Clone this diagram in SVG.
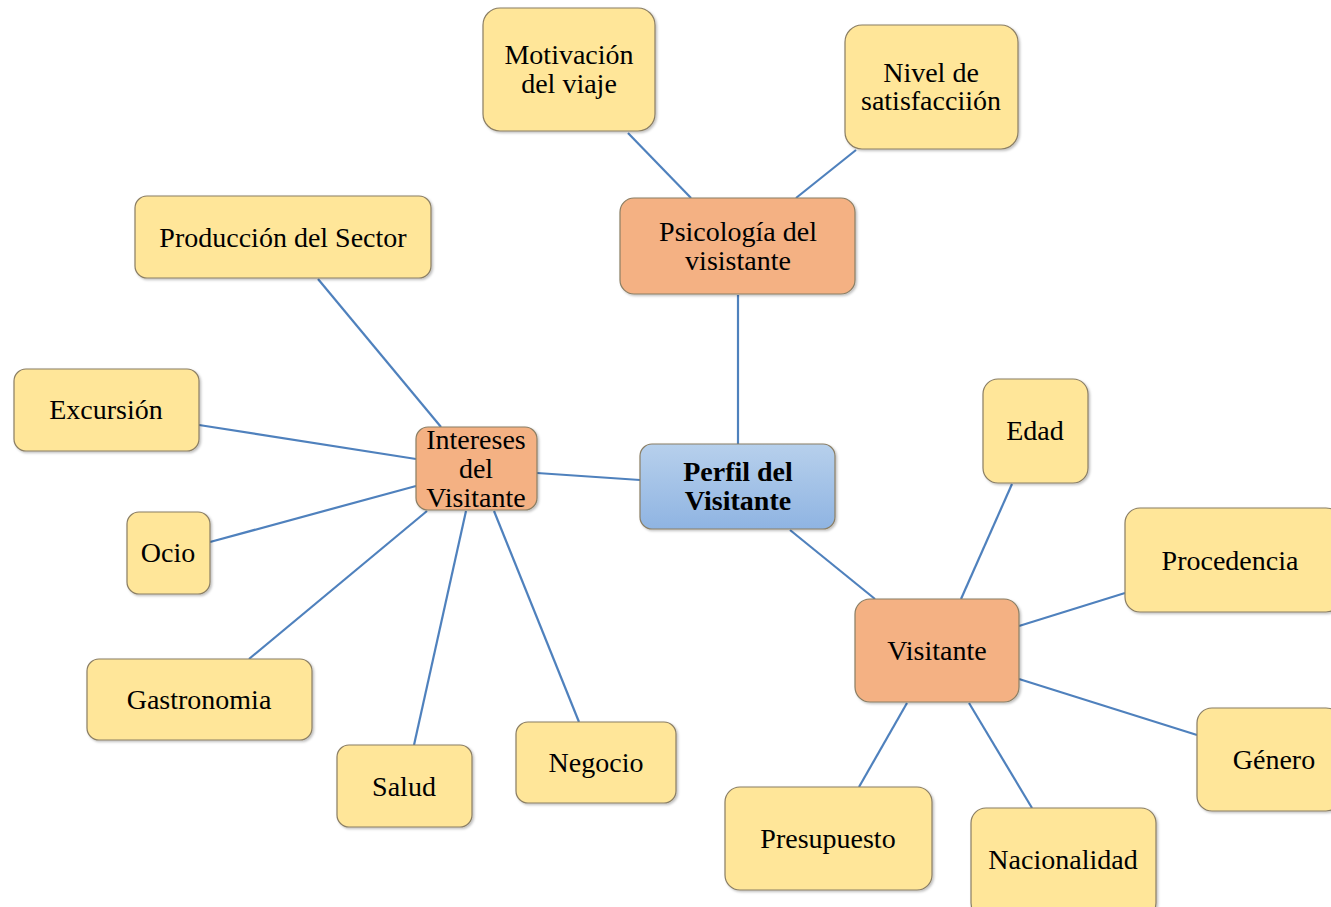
<svg xmlns="http://www.w3.org/2000/svg" width="1331" height="907" viewBox="0 0 1331 907">
  <defs>
    <linearGradient id="blueFill" x1="0" y1="0" x2="0" y2="1">
      <stop offset="0" stop-color="#B7D0EC"/>
      <stop offset="1" stop-color="#8FB4E2"/>
    </linearGradient>
    <filter id="shadow" x="-10%" y="-10%" width="120%" height="130%">
      <feDropShadow dx="1.5" dy="1.5" stdDeviation="1" flood-color="#000" flood-opacity="0.25"/>
    </filter>
  </defs>
  <style>
    .box { stroke: #8A7E64; stroke-width: 1.2; filter: url(#shadow); }
    .leaf { fill: #FFE699; }
    .mid { fill: #F4B183; }
    .root { fill: url(#blueFill); }
    text { font-family: "Liberation Serif", "Times New Roman", serif; font-size: 28px; fill: #000; text-anchor: middle; }
    .bold { font-weight: bold; }
    #connectors line { stroke: #4F81BD; stroke-width: 2.2; }
  </style>
  <rect width="1331" height="907" fill="#FFFFFF"/>

  <!-- connectors drawn under the nodes -->
  <g id="connectors">
    <line x1="628" y1="133" x2="691" y2="198"/>
    <line x1="856" y1="150" x2="796" y2="198"/>
    <line x1="738" y1="295" x2="738" y2="444"/>
    <line x1="318" y1="279" x2="441" y2="427"/>
    <line x1="199" y1="425" x2="416" y2="459"/>
    <line x1="537" y1="473" x2="640" y2="480"/>
    <line x1="210" y1="542" x2="416" y2="486"/>
    <line x1="249" y1="659" x2="427" y2="511"/>
    <line x1="414" y1="745" x2="466" y2="511"/>
    <line x1="579" y1="722" x2="494" y2="511"/>
    <line x1="790" y1="530" x2="875" y2="599"/>
    <line x1="1012" y1="484" x2="961" y2="599"/>
    <line x1="1125" y1="593" x2="1019" y2="626"/>
    <line x1="1197" y1="735" x2="1019" y2="679"/>
    <line x1="859" y1="787" x2="907" y2="703"/>
    <line x1="1032" y1="808" x2="969" y2="703"/>
  </g>

  <g id="motivacion">
    <rect class="box leaf" x="483" y="8" width="172" height="123" rx="17"/>
    <text x="569" y="64">Motivación</text>
    <text x="569" y="93">del viaje</text>
  </g>
  <g id="satisfaccion">
    <rect class="box leaf" x="845" y="25" width="173" height="124" rx="17"/>
    <text x="931" y="82">Nivel de</text>
    <text x="931" y="110">satisfacciión</text>
  </g>
  <g id="psicologia">
    <rect class="box mid" x="620" y="198" width="235" height="96" rx="14"/>
    <text x="738" y="241">Psicología del</text>
    <text x="738" y="270">visistante</text>
  </g>
  <g id="produccion">
    <rect class="box leaf" x="135" y="196" width="296" height="82" rx="12"/>
    <text x="283" y="247">Producción del Sector</text>
  </g>
  <g id="excursion">
    <rect class="box leaf" x="14" y="369" width="185" height="82" rx="12"/>
    <text x="106" y="419">Excursión</text>
  </g>
  <g id="intereses">
    <rect class="box mid" x="416" y="427" width="121" height="83" rx="12"/>
    <text x="476" y="449">Intereses</text>
    <text x="476" y="478">del</text>
    <text x="476" y="507">Visitante</text>
  </g>
  <g id="perfil">
    <rect class="box root" x="640" y="444" width="195" height="85" rx="12"/>
    <text class="bold" x="738" y="481">Perfil del</text>
    <text class="bold" x="738" y="510">Visitante</text>
  </g>
  <g id="edad">
    <rect class="box leaf" x="983" y="379" width="105" height="104" rx="15"/>
    <text x="1035" y="440">Edad</text>
  </g>
  <g id="procedencia">
    <rect class="box leaf" x="1125" y="508" width="216" height="104" rx="15"/>
    <text x="1230" y="570">Procedencia</text>
  </g>
  <g id="ocio">
    <rect class="box leaf" x="127" y="512" width="83" height="82" rx="12"/>
    <text x="168" y="562">Ocio</text>
  </g>
  <g id="visitante">
    <rect class="box mid" x="855" y="599" width="164" height="103" rx="15"/>
    <text x="937" y="660">Visitante</text>
  </g>
  <g id="genero">
    <rect class="box leaf" x="1197" y="708" width="144" height="103" rx="15"/>
    <text x="1274" y="769">Género</text>
  </g>
  <g id="gastronomia">
    <rect class="box leaf" x="87" y="659" width="225" height="81" rx="12"/>
    <text x="199" y="709">Gastronomia</text>
  </g>
  <g id="salud">
    <rect class="box leaf" x="337" y="745" width="135" height="82" rx="12"/>
    <text x="404" y="796">Salud</text>
  </g>
  <g id="negocio">
    <rect class="box leaf" x="516" y="722" width="160" height="81" rx="12"/>
    <text x="596" y="772">Negocio</text>
  </g>
  <g id="presupuesto">
    <rect class="box leaf" x="725" y="787" width="207" height="103" rx="15"/>
    <text x="828" y="848">Presupuesto</text>
  </g>
  <g id="nacionalidad">
    <rect class="box leaf" x="971" y="808" width="185" height="110" rx="15"/>
    <text x="1063" y="869">Nacionalidad</text>
  </g>
</svg>
